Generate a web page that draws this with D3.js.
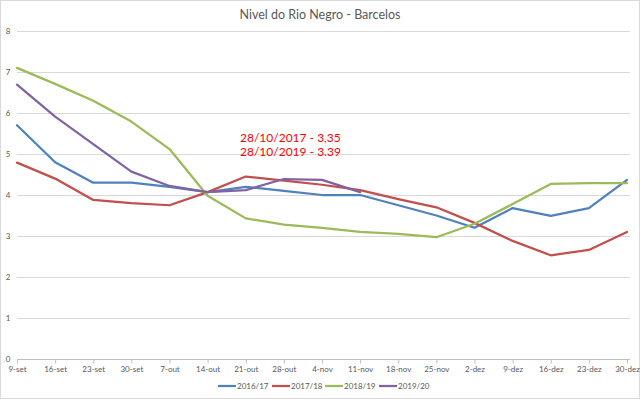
<!DOCTYPE html>
<html>
<head>
<meta charset="utf-8">
<script src="https://cdn.jsdelivr.net/npm/d3@7"></script>
<style>
  body { margin: 0; background: #fff; }
  text { font-family: Lato, "Open Sans", sans-serif; }
</style>
</head>
<body>
<div id="chart"></div>
<script>
// data
var weeks = ["9-set","16-set","23-set","30-set","7-out","14-out","21-out","28-out","4-nov","11-nov","18-nov","25-nov","2-dez","9-dez","16-dez","23-dez","30-dez"];
var s1617 = [5.7,4.8,4.3,4.3,4.2,4.07,4.2,4.1,4.0,4.0,3.75,3.5,3.2,3.68,3.49,3.68,4.37];
var s1718 = [4.79,4.4,3.88,3.8,3.75,4.07,4.45,4.35,4.25,4.12,3.9,3.7,3.32,2.88,2.53,2.66,3.1];
var s1819 = [7.1,6.71,6.3,5.79,5.12,3.98,3.43,3.28,3.2,3.1,3.05,2.97,3.3,3.78,4.27,4.29,4.29];
var s1920 = [6.69,5.91,5.24,4.57,4.22,4.07,4.12,4.39,4.37,4.07];
var seriesNames = ["2016/17","2017/18","2018/19","2019/20"];
var seriesColors = ["#4f81bd","#c0504d","#9bbb59","#8064a2"];
var yTicks = [0,1,2,3,4,5,6,7,8];
var notes = ["28/10/2017 - 3,35","28/10/2019 - 3.39"];

var allSeries = [s1617, s1718, s1819, s1920];

var W = 640, H = 399;
var svg = d3.select("#chart").append("svg")
    .attr("width", W).attr("height", H);

svg.append("rect")
    .attr("x", 0.5).attr("y", 0.5)
    .attr("width", W - 1).attr("height", H - 1)
    .attr("fill", "#fff").attr("stroke", "#d9d9d9");

var x = d3.scalePoint().domain(weeks).range([17, 627]);
var y = d3.scaleLinear().domain([0, 8]).range([359, 31]);

// title
svg.append("text")
    .attr("x", 320).attr("y", 19)
    .attr("text-anchor", "middle")
    .attr("font-size", 12.5)
    .attr("fill", "#595959")
    .text("Nivel do Rio Negro - Barcelos");

// gridlines
svg.append("g").selectAll("line")
    .data(yTicks.filter(function(d){ return d > 0; }))
    .enter().append("line")
    .attr("x1", 17).attr("x2", 630)
    .attr("y1", function(d){ return Math.round(y(d)) + 0.5; })
    .attr("y2", function(d){ return Math.round(y(d)) + 0.5; })
    .attr("stroke", "#d9d9d9");

// y labels
svg.append("g").selectAll("text")
    .data(yTicks)
    .enter().append("text")
    .attr("x", 8).attr("y", function(d){ return y(d) + 3; })
    .attr("text-anchor", "middle")
    .attr("font-size", 8)
    .attr("fill", "#595959")
    .text(function(d){ return d; });

// x axis
var xAxis = d3.axisBottom(x).tickSize(4).tickPadding(3);
var gx = svg.append("g")
    .attr("transform", "translate(0," + (Math.round(y(0)) + 0.5) + ")")
    .call(xAxis);
gx.select(".domain").attr("stroke", "#bfbfbf").attr("d", "M17,0H630");
gx.selectAll(".tick line").attr("stroke", "#bfbfbf");
gx.selectAll(".tick text").attr("font-size", 8).attr("fill", "#595959")
    .style("font-family", "Lato, 'Open Sans', sans-serif");

// lines
var line = d3.line()
    .x(function(d, i){ return x(weeks[i]); })
    .y(function(d){ return y(d); });

svg.append("g").selectAll("path")
    .data(allSeries)
    .enter().append("path")
    .attr("d", function(d){ return line(d); })
    .attr("fill", "none")
    .attr("stroke", function(d, i){ return seriesColors[i]; })
    .attr("stroke-width", 2.25)
    .attr("stroke-linejoin", "round")
    .attr("stroke-linecap", "round");

// annotation
svg.append("g").selectAll("text")
    .data(notes)
    .enter().append("text")
    .attr("x", 240).attr("y", function(d, i){ return 142 + i * 14; })
    .attr("font-size", 12)
    .attr("fill", "#ff0000")
    .text(function(d){ return d; });

// legend
var legX = [218, 272, 325, 379];
var leg = svg.append("g").selectAll("g")
    .data(seriesNames)
    .enter().append("g")
    .attr("transform", function(d, i){ return "translate(" + legX[i] + ",386)"; });
leg.append("line")
    .attr("x1", 0).attr("x2", 18)
    .attr("stroke", function(d, i){ return seriesColors[i]; })
    .attr("stroke-width", 2.25);
leg.append("text")
    .attr("x", 19).attr("y", 3)
    .attr("font-size", 8)
    .attr("fill", "#595959")
    .text(function(d){ return d; });
</script>
</body>
</html>
